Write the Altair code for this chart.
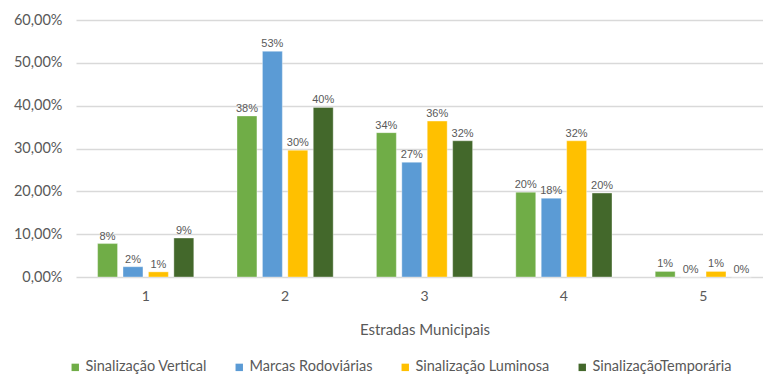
import altair as alt
import pandas as pd

roads = ["1", "2", "3", "4", "5"]
series = ["Sinalização Vertical", "Marcas Rodoviárias", "Sinalização Luminosa", "SinalizaçãoTemporária"]
colors = ["#70AD47", "#5B9BD5", "#FFC000", "#43682B"]
values = {
    "Sinalização Vertical": [0.078, 0.376, 0.337, 0.198, 0.013],
    "Marcas Rodoviárias": [0.024, 0.527, 0.268, 0.184, 0.0],
    "Sinalização Luminosa": [0.012, 0.296, 0.364, 0.318, 0.013],
    "SinalizaçãoTemporária": [0.091, 0.396, 0.318, 0.196, 0.0],
}

rows = []
for s in series:
    for r, v in zip(roads, values[s]):
        rows.append({"road": r, "series": s, "value": v})
df = pd.DataFrame(rows)

gray = "#595959"

x = alt.X("road:N", sort=roads, title="Estradas Municipais",
          scale=alt.Scale(range=[0, 697], paddingInner=0.31, paddingOuter=0.155),
          axis=alt.Axis(labelAngle=0, ticks=False, domain=False, labelPadding=12,
                        labelFont="Lato", labelFontSize=14, labelColor=gray,
                        titleFont="Lato", titleFontSize=15, titleColor=gray,
                        titleFontWeight="normal", titlePadding=19))
xoff = alt.XOffset("series:N", sort=series,
                   scale=alt.Scale(paddingInner=0.216, paddingOuter=0))
y = alt.Y("value:Q", title=None,
          scale=alt.Scale(domain=[0, 0.6]),
          axis=alt.Axis(values=[0, 0.1, 0.2, 0.3, 0.4, 0.5, 0.6],
                        labelExpr="replace(format(datum.value, '.2%'), '.', ',')",
                        ticks=False, domain=False, labelPadding=14,
                        labelFont="Lato", labelFontSize=14.5, labelColor=gray,
                        gridColor="#D9D9D9", gridWidth=1.6))

bars = alt.Chart(df).mark_bar(stroke="#ffffff", strokeWidth=0.6, strokeOpacity=0.6).encode(
    x=x, xOffset=xoff, y=y,
    color=alt.Color("series:N", sort=series,
                    scale=alt.Scale(domain=series, range=colors),
                    legend=alt.Legend(title=None, orient="none", legendX=-8, legendY=340,
                                      direction="horizontal", columns=4,
                                      symbolType="square", symbolSize=55,
                                      symbolStrokeWidth=0, labelFont="Lato",
                                      labelFontSize=14.5, labelColor=gray,
                                      columnPadding=25, labelOffset=3)),
)

labels = alt.Chart(df).mark_text(baseline="alphabetic", dy=-4, font="Liberation Sans",
                                 fontSize=11, color=gray).encode(
    x=x, xOffset=xoff, y=y,
    text=alt.Text("value:Q", format=".0%"),
)

chart = alt.layer(bars, labels).properties(
    width=687, height=257,
    autosize=alt.AutoSizeParams(type="none"),
    padding={"left": 76, "top": 20, "right": 0, "bottom": 97},
).configure_view(stroke=None)

chart.save("out.html", embed_options={"renderer": "svg", "actions": False})
